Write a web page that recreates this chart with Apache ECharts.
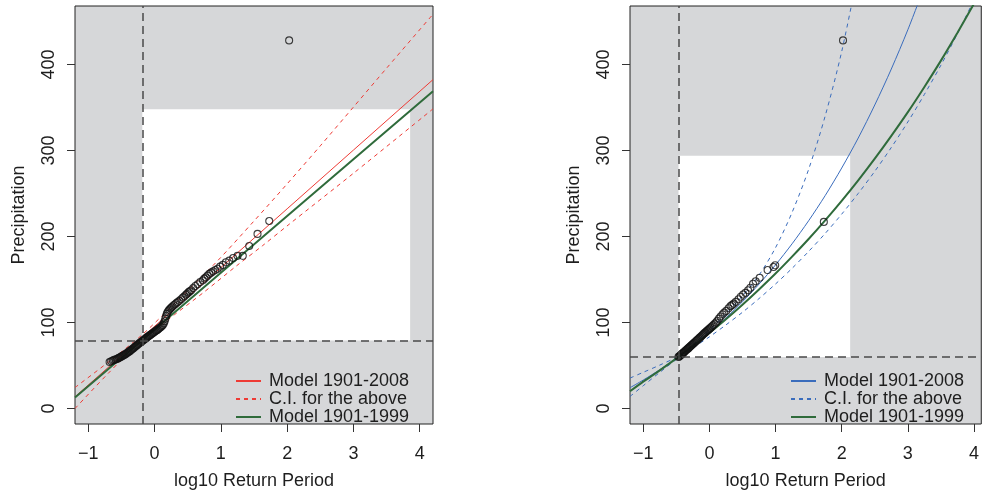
<!DOCTYPE html>
<html><head><meta charset="utf-8">
<script src="https://cdn.jsdelivr.net/npm/echarts@6/dist/echarts.min.js"></script>
<style>html,body{margin:0;padding:0;background:#fff}#c{width:982px;height:495px}</style>
</head><body><div id="c"></div>
<script>
// ---------- data ----------
const xTicks = [-1, 0, 1, 2, 3, 4];
const yTicks = [0, 100, 200, 300, 400];
const legendNames = ['Model 1901-2008', 'C.I. for the above', 'Model 1901-1999'];

// left panel (linear model)
const leftThresh = { x: -0.185, y: 79, xEnd: 3.855, yTop: 348 };
const leftPtsX = [-0.678,-0.655,-0.63,-0.61,-0.59,-0.57,-0.55,-0.535,-0.52,-0.505,-0.49,-0.475,-0.46,-0.445,-0.43,-0.415,-0.4,-0.385,-0.37,-0.355,-0.34,-0.325,-0.31,-0.295,-0.28,-0.265,-0.25,-0.235,-0.22,-0.205,-0.19,-0.175,-0.16,-0.145,-0.13,-0.115,-0.1,-0.085,-0.07,-0.055,-0.04,-0.025,-0.01,0.005,0.02,0.035,0.05,0.065,0.08,0.095,0.11,0.125,0.14,0.152,0.163,0.174,0.185,0.197,0.21,0.225,0.24,0.255,0.27,0.29,0.31,0.33,0.35,0.374,0.4,0.428,0.45,0.474,0.49,0.511,0.53,0.553,0.583,0.615,0.65,0.688,0.729,0.751,0.775,0.8,0.826,0.854,0.884,0.916,0.951,0.989,1.03,1.076,1.127,1.185,1.252,1.331,1.428,1.553,1.73,2.03];
const leftPtsY = [54,55,55.8,56.5,57,57.6,58.3,59,59.6,60.2,60.9,61.6,62.2,62.9,63.7,64.5,65.3,66.1,67,67.9,68.8,69.8,70.7,71.7,72.7,73.6,74.6,75.5,76.4,77.3,78.2,79.1,80,80.9,81.8,82.7,83.6,84.4,85.3,86.1,87,87.8,88.6,89.5,90.3,91.1,92,92.9,93.8,94.8,95.9,97.2,99,101.5,104.5,107.5,110,112,113.6,115,116.3,117.5,118.6,120,121.3,122.6,123.8,125.2,127,129,130.5,132.3,133.5,135,136.2,137.5,140,142.5,144.5,147,149,151,152.5,154.5,156.5,158,159.5,161,162.5,165,167,170,172,175,177.5,177.5,189,203,218,428];
const leftFitX = [-1.2, -0.185, 1, 2, 3, 4.2];
const leftFitRed = [13.6, 82.9, 163.9, 232.2, 300.5, 382.4];
const leftFitGreen = [12.8, 79.7, 157.9, 223.9, 289.8, 368.9];
const leftUpX = [-1.2, -0.7, -0.185, 0.3, 0.93, 1.5, 2, 2.5, 3, 3.5, 4.2];
const leftUpY = [24.4, 53.8, 85.9, 122.1, 170.1, 218.0, 261.2, 305.4, 350.5, 395.7, 458.4];
const leftLoX = [-1.2, -0.7, -0.185, 0.3, 0.73, 1.23, 1.63, 2.03, 3, 4.2];
const leftLoY = [0, 40.8, 79.9, 109.1, 134.4, 165.5, 189.4, 214.2, 273.5, 348.4];

// right panel (curved model)
const rightThresh = { x: -0.467, y: 60, xEnd: 2.128, yTop: 294 };
const rightPtsX = [-0.467,-0.455,-0.445,-0.435,-0.425,-0.415,-0.405,-0.395,-0.385,-0.375,-0.362,-0.35,-0.337,-0.325,-0.312,-0.3,-0.287,-0.275,-0.262,-0.25,-0.235,-0.22,-0.205,-0.19,-0.175,-0.16,-0.145,-0.13,-0.115,-0.1,-0.085,-0.07,-0.055,-0.04,-0.025,-0.01,0.005,0.02,0.04,0.06,0.08,0.1,0.12,0.145,0.17,0.2,0.225,0.255,0.29,0.32,0.345,0.37,0.4,0.44,0.475,0.51,0.545,0.585,0.62,0.66,0.7,0.76,0.88,0.97,0.995,1.73,2.02];
const rightPtsY = [60,60.5,61.3,62,62.7,63.4,64.1,64.8,65.5,66.2,67.1,67.9,68.8,69.6,70.5,71.4,72.3,73.2,74.1,75,76,77.1,78.2,79.2,80.3,81.3,82.4,83.5,84.6,85.7,86.8,87.9,88.9,90,91,92,93,94,95.5,97,98.5,100,102,104.5,107,109.5,111.5,113.5,116.5,119,120.5,122,124,127,130,132.5,134.5,137.5,140.5,145,148,152,161,164.5,166.5,217,428];
const rightCurveX = [-1.2,-1.0,-0.75,-0.467,-0.25,0,0.25,0.5,0.75,1,1.25,1.5,1.75,2,2.25,2.5,2.75,3,3.25,3.5,3.75,4,4.11];
const rightFitBlue = [24.2,33.1,45.1,60,72.5,88.2,105.3,124.1,144.6,167,191.5,218.3,247.5,279.6,314.5,352.9,394.7,440.4,490.4];
const rightFitGreen = [20,31.2,44.4,60,72.6,87.8,103.8,120.7,138.4,156.9,176.6,197.1,218.8,241.5,265.3,290.5,317,344.6,373.9,404.5,436.9,470.7,484.9];
const rightUpY = [35.4,42.1,50.5,61,74,91,110,131,155,187,228,278,340,415,508];
const rightLoY = [14,26.5,42,59,70.5,83.3,97.2,111.9,127.8,144.8,163,182.6,203.5,226,250.1,275.8,303.5,333.2,365.2,399.2,435.8,475,491];

// ---------- chart ----------
const FONT = 'Liberation Sans, Arial, sans-serif';
const TXT = '#1e1e1e';
const GRAY = '#d6d7d9';
const RED = '#ee3b35';
const GREEN = '#2f6b3b';
const BLUE = '#3a6cbc';
const zip = (xs, ys) => ys.map((y, i) => [xs[i], y]);
const minus = v => String(v).replace('-', '\u2212');

function xAxis(gi, max) {
  return {
    type: 'value', gridIndex: gi, min: -1.2, max: max, position: 'bottom',
    name: 'log10 Return Period', nameLocation: 'middle', nameGap: 48,
    nameTextStyle: { fontFamily: FONT, fontSize: 18, color: TXT },
    axisLine: { show: false, onZero: false }, splitLine: { show: false },
    axisTick: { show: true, inside: false, length: 8, customValues: xTicks, lineStyle: { color: '#333', width: 1 } },
    axisLabel: { customValues: xTicks, margin: 21, fontFamily: FONT, fontSize: 18, color: TXT, formatter: minus }
  };
}
function yAxis(gi) {
  return {
    type: 'value', gridIndex: gi, min: -18, max: 468, position: 'left',
    name: 'Precipitation', nameLocation: 'middle', nameGap: 47, nameRotate: 90,
    nameTextStyle: { fontFamily: FONT, fontSize: 18, color: TXT },
    axisLine: { show: false, onZero: false }, splitLine: { show: false },
    axisTick: { show: true, inside: false, length: 8, customValues: yTicks, lineStyle: { color: '#333', width: 1 } },
    axisLabel: { customValues: yTicks, rotate: 90, margin: 17, fontFamily: FONT, fontSize: 18, color: TXT }
  };
}
function background(gi, th) {
  return {
    type: 'scatter', xAxisIndex: gi, yAxisIndex: gi, data: [], silent: true, z: 1,
    markArea: { silent: true, itemStyle: { color: '#ffffff' },
      data: [[{ coord: [th.x, th.y] }, { coord: [th.xEnd, th.yTop] }]] },
    markLine: { silent: true, symbol: 'none', label: { show: false },
      lineStyle: { color: '#4a4a4a', type: [8, 5], width: 1.5 },
      data: [{ xAxis: th.x }, { yAxis: th.y }] }
  };
}
function line(gi, name, data, color, width, dashed, smooth) {
  return {
    type: 'line', name: name, xAxisIndex: gi, yAxisIndex: gi, data: data,
    symbol: 'none', smooth: smooth, clip: true, z: 3, silent: true,
    lineStyle: { color: color, width: width, type: dashed ? [4, 4] : 'solid' },
    itemStyle: { color: color }
  };
}
function points(gi, data) {
  return {
    type: 'scatter', xAxisIndex: gi, yAxisIndex: gi, data: data, z: 4, silent: true,
    symbol: 'circle', symbolSize: 7, clip: true,
    itemStyle: { color: 'rgba(0,0,0,0)', borderColor: '#111', borderWidth: 1.1 }
  };
}
function legend(left, names) {
  return {
    orient: 'vertical', left: left, top: 367, selectedMode: false,
    itemWidth: 25, itemHeight: 10, itemGap: 0, data: names,
    formatter: n => n.trim(),
    itemStyle: { opacity: 0 },
    textStyle: { fontFamily: FONT, fontSize: 18, color: TXT, lineHeight: 16, padding: [0, 0, 0, 3] }
  };
}
const R = legendNames.map(n => n + ' ');

const option = {
  animation: false,
  backgroundColor: '#ffffff',
  grid: [
    { left: 75, top: 6, width: 358, height: 419, show: true, backgroundColor: GRAY, borderColor: '#222', borderWidth: 1 },
    { left: 630, top: 6, width: 352, height: 420, show: true, backgroundColor: GRAY, borderColor: '#222', borderWidth: 1 }
  ],
  xAxis: [xAxis(0, 4.2), xAxis(1, 4.11)],
  yAxis: [yAxis(0), yAxis(1)],
  legend: [legend(230, legendNames), legend(785, R)],
  series: [
    background(0, leftThresh),
    line(0, legendNames[1], zip(leftUpX, leftUpY), RED, 1, true, 0.3),
    line(0, legendNames[1], zip(leftLoX, leftLoY), RED, 1, true, 0.3),
    line(0, legendNames[0], zip(leftFitX, leftFitRed), RED, 1, false, false),
    line(0, legendNames[2], zip(leftFitX, leftFitGreen), GREEN, 2, false, false),
    points(0, zip(leftPtsX, leftPtsY)),
    background(1, rightThresh),
    line(1, R[1], zip(rightCurveX, rightUpY), BLUE, 1, true, 0.3),
    line(1, R[1], zip(rightCurveX, rightLoY), BLUE, 1, true, 0.3),
    line(1, R[0], zip(rightCurveX, rightFitBlue), BLUE, 1, false, 0.3),
    line(1, R[2], zip(rightCurveX, rightFitGreen), GREEN, 2, false, 0.3),
    points(1, zip(rightPtsX, rightPtsY))
  ]
};
echarts.init(document.getElementById('c'), null, { renderer: 'canvas' }).setOption(option);
</script></body></html>
